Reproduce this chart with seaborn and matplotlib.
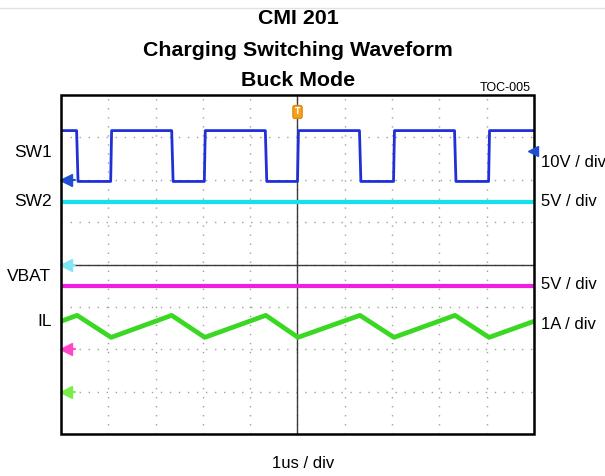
import matplotlib.pyplot as plt
import numpy as np
import pandas as pd
import seaborn as sns
from matplotlib.lines import Line2D
from matplotlib.patches import Rectangle

# time in us, trigger at t = 0 (screen is -5 .. 5 us, 1 us / div)
sw1_time = [-5.0, -4.67, -4.64, -3.95, -3.93, -2.66, -2.63, -1.97, -1.95, -0.68, -0.65,
            0.0, 0.02, 1.31, 1.34, 2.03, 2.05, 3.32, 3.35, 4.04, 4.06, 5.0]
sw1_volts = [11.6, 11.6, -0.4, -0.4, 11.6, 11.6, -0.4, -0.4, 11.6, 11.6, -0.4,
             -0.4, 11.6, 11.6, -0.4, -0.4, 11.6, 11.6, -0.4, -0.4, 11.6, 11.6]
sw2_time = [-5.0, 5.0]
sw2_volts = [7.4, 7.4]
vbat_time = [-5.0, 5.0]
vbat_volts = [7.45, 7.45]
il_time = [-5.0, -4.66, -3.94, -2.66, -1.96, -0.67, 0.01, 1.32, 2.04, 3.33, 4.05, 5.0]
il_amps = [1.66, 1.8, 1.28, 1.8, 1.28, 1.8, 1.28, 1.8, 1.28, 1.8, 1.28, 1.66]

channels = ["SW1", "SW2", "VBAT", "IL"]
scale_labels = ["10V / div", "5V / div", "5V / div", "1A / div"]
units_per_div = [10, 5, 5, 1]
ground_div = [2.0, 0.0, -2.0, -3.0]

traces = [(sw1_time, sw1_volts), (sw2_time, sw2_volts),
          (vbat_time, vbat_volts), (il_time, il_amps)]
colors = ["#1f30d8", "#14e1ee", "#f01ee0", "#3ad822"]
widths = [2.0, 3.0, 3.0, 3.4]
arrow_colors = ["#1f4fd0", "#80e6f6", "#ff45c8", "#7aee48"]

sns.set_style("white")
plt.rcParams["text.color"] = "black"
fig = plt.figure(figsize=(6.05, 4.76), dpi=100)
ax = fig.add_axes([61 / 605, 1 - 434 / 476, 473 / 605, 339 / 476])

for name, (t, v), scale, gnd, col, lw in zip(channels, traces, units_per_div,
                                             ground_div, colors, widths):
    df = pd.DataFrame({"t": t, "div": np.array(v) / scale + gnd})
    sns.lineplot(data=df, x="t", y="div", ax=ax, color=col, linewidth=lw,
                 estimator=None, sort=False, zorder=3)

# ground reference arrows on the left edge
for gnd, col in zip(ground_div, arrow_colors):
    ax.plot([-4.95, -4.7], [gnd, gnd], color=col, lw=1.5, zorder=4, clip_on=False)
    ax.plot([-4.9], [gnd], marker="<", color=col, ms=8, zorder=4, clip_on=False)

# trigger level marker on right edge and trigger position at top
ax.plot([4.98], [2.67], marker="<", color="#1f4fd0", ms=7, zorder=8, clip_on=False)
ax.text(0, 3.6, "T", ha="center", va="center", fontsize=5.5, color="white",
        fontweight="bold", zorder=6,
        bbox=dict(boxstyle="round,pad=0.25", fc="#f5a020", ec="#e08a10"))

ax.set_xlim(-5, 5)
ax.set_ylim(-4, 4)
ax.set_xlabel("")
ax.set_ylabel("")
ax.set_xticks(range(-5, 6))
ax.set_yticks(range(-4, 5))
ax.set_xticks(np.arange(-5, 5.01, 0.2), minor=True)
ax.set_yticks(np.arange(-4, 4.01, 0.2), minor=True)
ax.spines["left"].set_position(("data", 0))
ax.spines["bottom"].set_position(("data", 0))
for s in ["left", "bottom"]:
    ax.spines[s].set_color("#3a3a3a")
    ax.spines[s].set_linewidth(1.0)
for s in ["top", "right"]:
    ax.spines[s].set_visible(False)
ax.tick_params(which="both", direction="inout", color="#3a3a3a",
               labelbottom=False, labelleft=False)
ax.tick_params(which="major", length=6, width=1)
ax.tick_params(which="minor", length=5, width=0.8)
ax.grid(True, which="major", color="#a0a0a0", linestyle=(0, (1, 5.5)), lw=1)
ax.set_axisbelow(True)
ax.add_patch(Rectangle((0, 0), 1, 1, transform=ax.transAxes, fill=False,
                       ec="black", lw=1.8, clip_on=False, zorder=7))

# channel names and scales
left_y = [2.64, 1.49, -0.28, -1.34]
right_y = [2.41, 1.49, -0.47, -1.42]
for name, ly, lab, ry in zip(channels, left_y, scale_labels, right_y):
    ax.text(-5.2, ly, name, ha="right", va="center", fontsize=12.5,
            family="Liberation Sans", clip_on=False)
    ax.text(5.15, ry, lab, ha="left", va="center", fontsize=12,
            family="Liberation Sans", clip_on=False)

fig.text(303 / 605, 1 - 463 / 476, "1us / div", ha="center", va="center",
         fontsize=12, family="Liberation Sans")

title_font = ["Liberation Sans Narrow", "Liberation Sans"]
for txt, y in [("CMI 201", 18), ("Charging Switching Waveform", 50), ("Buck Mode", 80)]:
    fig.text(298 / 605, 1 - y / 476, txt, ha="center", va="center", fontsize=15.4,
             fontweight="bold", family=title_font)
fig.text(505 / 605, 1 - 88 / 476, "TOC-005", ha="center", va="center",
         fontsize=9, family="Liberation Sans")

fig.add_artist(Line2D([0, 1], [1 - 8 / 476, 1 - 8 / 476], color="#e2e2e2", lw=1))

fig.savefig("out.png", dpi=100)
